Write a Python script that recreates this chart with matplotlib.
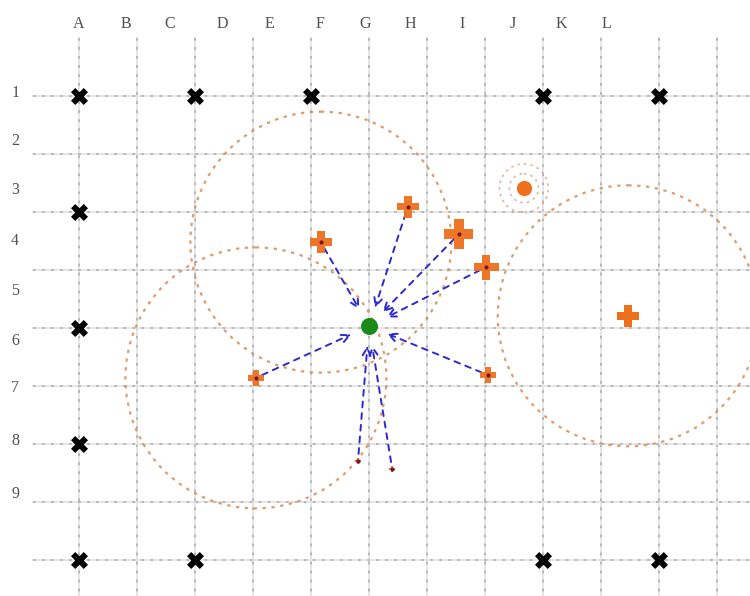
import matplotlib
matplotlib.use("Agg")
import matplotlib.pyplot as plt
from matplotlib.patches import Circle

# ---- data (grid units; x to the right, y downward) ----
col_labels = ["A", "B", "C", "D", "E", "F", "G", "H", "I", "J", "K", "L"]
col_label_x = [0.0, 0.81, 1.57, 2.47, 3.28, 4.16, 4.93, 5.72, 6.60, 7.47, 8.31, 9.10]
row_labels = ["1", "2", "3", "4", "5", "6", "7", "8", "9"]
row_label_y = [-0.05, 0.78, 1.62, 2.50, 3.36, 4.22, 5.03, 5.95, 6.86]

anchor_x = [0, 2, 4, 8, 10, 0, 0, 0, 0, 2, 8, 10]
anchor_y = [0, 0, 0, 0, 0, 2, 4, 6, 8, 8, 8, 8]

target = (5.0, 3.97)

source_x = [5.67, 6.55, 7.02, 4.17, 3.05, 7.05, 4.81, 5.40]
source_y = [1.91, 2.38, 2.95, 2.52, 4.86, 4.81, 6.29, 6.43]
source_size = [16, 21, 18, 16, 12, 12, 4, 4]

other_x = [9.47]
other_y = [3.79]
other_size = [16]

dot_x = [7.67]
dot_y = [1.59]
dot_rings = [0.25, 0.42]

circle_cx = [4.17, 3.05, 9.47]
circle_cy = [2.52, 4.86, 3.79]
circle_r = [2.25, 2.25, 2.25]

# ---- figure ----
fig = plt.figure(figsize=(7.5, 5.96), dpi=100)
ax = fig.add_axes([0, 0, 1, 1])
ax.set_xlim(-1.362, 11.569)
ax.set_ylim(8.621, -1.655)
ax.axis("off")

# grid
for u in range(12):
    ax.plot([u, u], [-1.0, 8.7], color="#e4e4e4", lw=1.3, zorder=1)
    ax.plot([u, u], [-1.0, 8.7], color="#b2b2b2", lw=1.3,
            linestyle=(0, (1.5, 3.5)), zorder=1)
for v in range(9):
    ax.plot([-0.8, 11.6], [v, v], color="#e4e4e4", lw=1.3, zorder=1)
    ax.plot([-0.8, 11.6], [v, v], color="#b2b2b2", lw=1.3,
            linestyle=(0, (1.5, 3.5)), zorder=1)

# labels
for lab, x in zip(col_labels, col_label_x):
    ax.text(x, -1.24, lab, ha="center", va="center", fontsize=11.5,
            family="Liberation Serif", color="#505050")
for lab, y in zip(row_labels, row_label_y):
    ax.text(-1.1, y, lab, ha="center", va="center", fontsize=11.5,
            family="Liberation Serif", color="#505050")

# big dotted circles
for cx, cy, r in zip(circle_cx, circle_cy, circle_r):
    ax.add_patch(Circle((cx, cy), r, fill=False, ec="#d98a55", lw=1.6,
                        linestyle=(0, (1.5, 2.5)), alpha=0.85, zorder=2))
# small rings
for x, y in zip(dot_x, dot_y):
    for r in dot_rings:
        ax.add_patch(Circle((x, y), r, fill=False, ec="#e0a080", lw=1.2,
                            linestyle=(0, (1.5, 2.5)), alpha=0.8, zorder=2))

# arrows
for sx, sy in zip(source_x, source_y):
    ax.annotate("", xy=target, xytext=(sx, sy),
                arrowprops=dict(arrowstyle="->", linestyle=(0, (3, 3)),
                                color="#2a2ad0", lw=1.4, shrinkA=5,
                                shrinkB=14, mutation_scale=14),
                zorder=3)

# anchors
ax.scatter(anchor_x, anchor_y, marker="X", s=150, color="black", zorder=4,
           linewidths=0)

# orange plus markers
ax.scatter(source_x, source_y, marker="P", s=[v ** 2 for v in source_size],
           color="#ee6f1c", linewidths=0, zorder=5, alpha=0.95)
ax.scatter(source_x, source_y, marker="o", s=9, color="#7a1530",
           linewidths=0, zorder=6)
ax.scatter(other_x, other_y, marker="P", s=[v ** 2 for v in other_size],
           color="#ee6f1c", linewidths=0, zorder=5)
ax.scatter(dot_x, dot_y, marker="o", s=120, color="#ee6f1c",
           linewidths=0, zorder=5)

# target
ax.scatter([target[0]], [target[1]], marker="o", s=150, color="#1a8a1a",
           linewidths=0, zorder=7)

fig.savefig("out.png", dpi=100)
